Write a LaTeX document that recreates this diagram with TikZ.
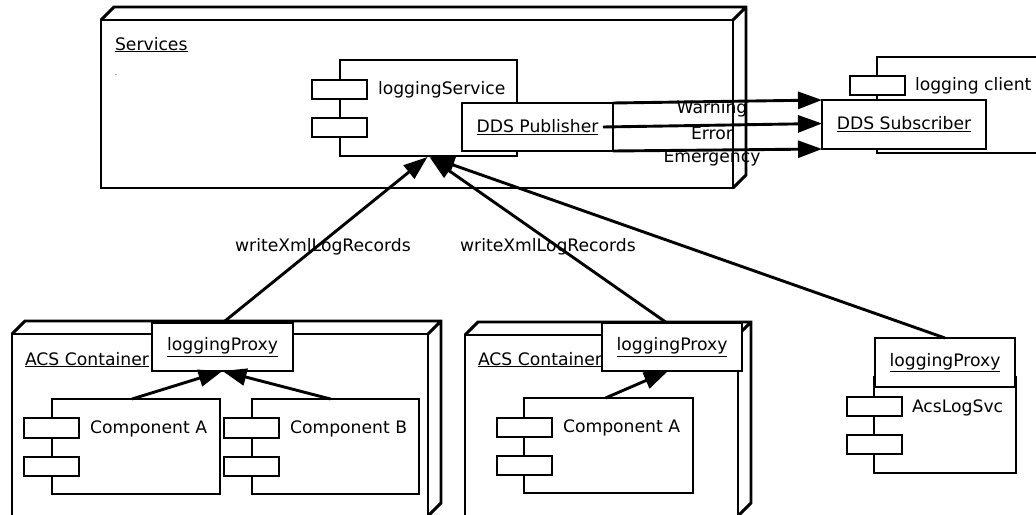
\documentclass[tikz,border=0pt]{standalone}
\usepackage{fontspec}
\setmainfont{DejaVu Sans}
\usetikzlibrary{arrows.meta,calc}
\tikzset{
  ln/.style={line width=2.9pt, line join=miter},
  box/.style={ln, draw, fill=white, inner sep=0pt, outer sep=0pt, anchor=north west,
    font=\fontsize{17.2}{20}\selectfont},
  txt/.style={inner sep=0pt, outer sep=0pt, font=\fontsize{17.2}{20}\selectfont},
  arr/.style={ln, -{Triangle[length=24pt,width=17pt]}},
}
\newcommand\bx[6][]{\node[box, minimum width=#5pt, minimum height=#6pt] (#2) at (#3,#4) {#1};}
\begin{document}
\begin{tikzpicture}[x=1pt,y=-1pt]
\useasboundingbox (0,0) rectangle (1036,514);
\clip (0,0) rectangle (1036,514);

% ---------- Services node ----------
\bx{services}{101}{20}{632}{168}
\draw[ln] (services.north west) -- ++(13,-13) -- ($(services.north east)+(13,-13)$)
  -- ($(services.south east)+(13,-13)$) -- (services.south east)
  (services.north east) -- ++(13,-13);
\node[txt, anchor=base west] (servlbl) at (115,50) {\underline{Services}};
\node[inner sep=0pt, font=\fontsize{7}{8}\selectfont] (dot) at (116,75) {.};

% loggingService component
\bx{svc}{340}{60}{177}{96}
\bx{svcp1}{312}{80}{55}{19}
\bx{svcp2}{312}{118}{55}{19}
\node[txt, anchor=west] (svclbl) at (378,90) {loggingService};
\bx[\underline{DDS Publisher}]{pub}{462}{103}{151}{48}

% ---------- logging client ----------
\bx{cli}{877}{57}{200}{96}
\bx{clip1}{850}{76}{55}{19}
\bx{clip2}{850}{114}{55}{19}
\node[txt, anchor=west] (clilbl) at (915,86) {logging client};
\bx[\underline{DDS Subscriber}]{sub}{822}{100}{164}{49}

% DDS arrows
\draw[arr] (pub.north east) -- (sub.north west);
\draw[arr] ($(pub.east)+(-10,0)$) -- ($(sub.west)+(0,-1)$);
\draw[arr] (pub.south east) -- (sub.south west);
\node[txt] (w) at (712,109) {Warning};
\node[txt] (e) at (712,133) {Error};
\node[txt] (em) at (712,158) {Emergency};

% ---------- ACS Container 1 ----------
\bx{c1}{12}{334}{416}{182}
\draw[ln] (c1.north west) -- ++(13,-13) -- ($(c1.north east)+(13,-13)$)
  -- ($(c1.south east)+(13,-13)$) -- (c1.south east)
  (c1.north east) -- ++(13,-13);
\node[txt, anchor=base west] (c1lbl) at (25,365) {\underline{ACS Container}};
\bx{ca1}{52}{399}{168}{95}
\bx{ca1p1}{24}{418}{55}{20}
\bx{ca1p2}{24}{457}{55}{19}
\node[txt, anchor=west] (ca1lbl) at (90,429) {Component A};
\bx{cb1}{252}{399}{167}{95}
\bx{cb1p1}{224}{418}{55}{20}
\bx{cb1p2}{224}{457}{55}{19}
\node[txt, anchor=west] (cb1lbl) at (290,429) {Component B};
\bx[\underline{loggingProxy}]{px1}{152}{323}{141}{48}
\draw[arr] ($(ca1.north)+(-4,0)$) -- (px1.south);
\draw[arr] ($(cb1.north)+(-5,0)$) -- (px1.south);

% ---------- ACS Container 2 ----------
\bx{c2}{465}{335}{273}{181}
\draw[ln] (c2.north west) -- ++(13,-13) -- ($(c2.north east)+(13,-13)$)
  -- ($(c2.south east)+(13,-13)$) -- (c2.south east)
  (c2.north east) -- ++(13,-13);
\node[txt, anchor=base west] (c2lbl) at (478,365) {\underline{ACS Container}};
\bx{ca2}{524}{398}{169}{95}
\bx{ca2p1}{497}{418}{55}{19}
\bx{ca2p2}{497}{456}{55}{19}
\node[txt, anchor=west] (ca2lbl) at (563,428) {Component A};
\bx[\underline{loggingProxy}]{px2}{602}{323}{140}{48}
\draw[arr] ($(ca2.north)+(-3,0)$) -- ($(px2.south)+(-4,0)$);

% ---------- AcsLogSvc ----------
\bx{als}{874}{377}{142}{96}
\bx{alsp1}{847}{397}{55}{19}
\bx{alsp2}{847}{435}{55}{19}
\node[txt, anchor=west] (alslbl) at (912,408) {AcsLogSvc};
\bx[\underline{loggingProxy}]{px3}{875}{338}{140}{49}

% ---------- writeXmlLogRecords ----------
\draw[arr] (px1.north) -- ($(svc.south)+(-1,1)$);
\draw[arr] ($(px2.north)+(-5,0)$) -- ($(svc.south)+(1,1)$);
\draw[arr] (px3.north) -- ($(svc.south)+(2,1)$);
\node[txt] (wx1) at (323,247) {writeXmlLogRecords};
\node[txt] (wx2) at (548,247) {writeXmlLogRecords};
\end{tikzpicture}
\end{document}
